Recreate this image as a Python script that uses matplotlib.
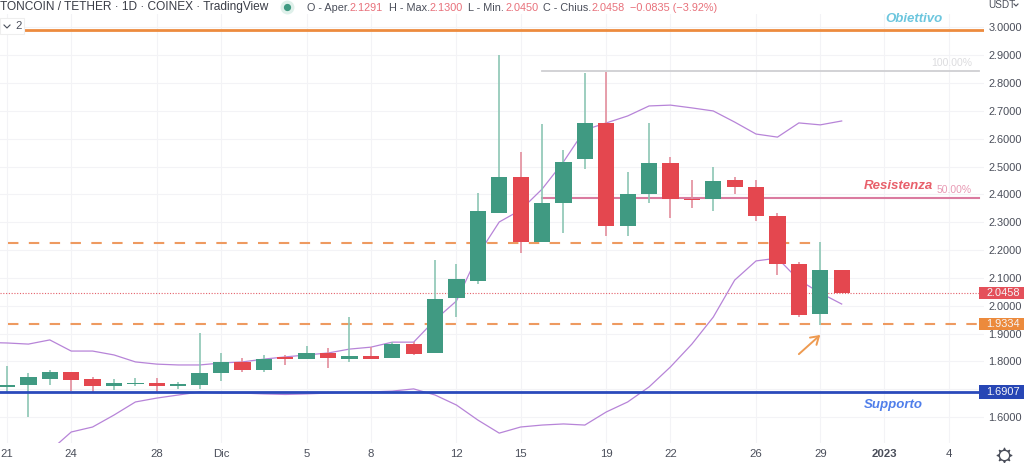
import matplotlib
matplotlib.use("Agg")
import matplotlib.pyplot as plt
from matplotlib.patches import Rectangle
from matplotlib.lines import Line2D

W, H = 1024, 463

# daily candles, index 0 = 21 Nov
opens = [1.709, 1.715, 1.735, 1.763, 1.738, 1.712, 1.718, 1.721, 1.712, 1.715,
         1.759, 1.799, 1.768, 1.816, 1.808, 1.831, 1.807, 1.820, 1.811, 1.863,
         1.829, 2.027, 2.089, 2.334, 2.461, 2.228, 2.368, 2.526, 2.658, 2.286,
         2.400, 2.514, 2.383, 2.382, 2.451, 2.427, 2.321, 2.150, 1.969, 2.1291]
highs = [1.783, 1.757, 1.769, 1.763, 1.744, 1.738, 1.739, 1.739, 1.727, 1.901,
         1.829, 1.811, 1.823, 1.822, 1.855, 1.847, 1.960, 1.852, 1.868, 1.868,
         2.164, 2.150, 2.404, 2.902, 2.552, 2.652, 2.560, 2.835, 2.841, 2.480,
         2.658, 2.536, 2.452, 2.497, 2.464, 2.452, 2.332, 2.156, 2.230, 2.130]
lows = [1.690, 1.601, 1.715, 1.693, 1.685, 1.697, 1.712, 1.689, 1.700, 1.700,
        1.730, 1.763, 1.762, 1.788, 1.808, 1.775, 1.797, 1.808, 1.811, 1.822,
        1.829, 1.960, 2.078, 2.332, 2.190, 2.228, 2.260, 2.490, 2.252, 2.250,
        2.368, 2.314, 2.352, 2.342, 2.402, 2.306, 2.110, 1.960, 1.931, 2.045]
closes = [1.715, 1.743, 1.761, 1.732, 1.711, 1.721, 1.722, 1.711, 1.717, 1.759,
          1.797, 1.768, 1.810, 1.807, 1.829, 1.812, 1.818, 1.808, 1.863, 1.827,
          2.024, 2.096, 2.340, 2.464, 2.230, 2.370, 2.518, 2.658, 2.286, 2.402,
          2.514, 2.382, 2.379, 2.449, 2.427, 2.321, 2.150, 1.965, 2.129, 2.0458]

# bollinger bands, first point is the day before the chart starts
band_days = list(range(-1, 40))
upper = [1.868, 1.866, 1.862, 1.877, 1.837, 1.837, 1.823, 1.798, 1.790, 1.787, 1.787,
         1.794, 1.798, 1.808, 1.816, 1.823, 1.830, 1.844, 1.851, 1.869, 1.869,
         1.949, 2.017, 2.182, 2.301, 2.344, 2.419, 2.517, 2.632, 2.657, 2.682,
         2.718, 2.721, 2.711, 2.700, 2.660, 2.617, 2.606, 2.657, 2.650, 2.664]
lower = [1.400, 1.420, 1.450, 1.478, 1.546, 1.564, 1.607, 1.654, 1.668, 1.679, 1.690,
         1.686, 1.686, 1.683, 1.681, 1.683, 1.686, 1.688, 1.690, 1.693, 1.701,
         1.679, 1.643, 1.589, 1.542, 1.564, 1.571, 1.575, 1.571, 1.618, 1.654,
         1.708, 1.780, 1.862, 1.959, 2.092, 2.161, 2.171, 2.092, 2.046, 2.006]

target = 2.990
fib_100 = 2.842
fib_50 = 2.387
resist_dash = 2.227
support_dash = 1.9334
support = 1.6907
last_price = 2.0458

x_ticks = [0, 3, 7, 10, 14, 17, 21, 24, 28, 31, 35, 38, 41, 44]
x_labels = ["21", "24", "28", "Dic", "5", "8", "12", "15", "19", "22", "26", "29", "2023", "4"]
y_ticks = [1.6, 1.7, 1.8, 1.9, 2.0, 2.1, 2.2, 2.3, 2.4, 2.5, 2.6, 2.7, 2.8, 2.9, 3.0]
y_labels = ["1.6000", "", "1.8000", "1.9000", "2.0000", "2.1000", "2.2000", "2.3000",
            "2.4000", "2.5000", "2.6000", "2.7000", "2.8000", "2.9000", "3.0000"]

GREEN, RED = "#409a82", "#e4474f"
GREEN_WICK, RED_WICK = "#8cc6b4", "#e38e9c"
TEXT = "#4a4e5a"

plt.rcParams["font.family"] = ["Liberation Sans", "DejaVu Sans"]

fig = plt.figure(figsize=(W / 100, H / 100), dpi=100)
ax = fig.add_axes([0, (H - 443) / H, 984 / W, (443 - 14) / H])
ax.set_xlim(-0.327, 45.65)
ax.set_ylim(1.5065, 3.0485)
for s in ax.spines.values():
    s.set_visible(False)

ax.set_xticks(x_ticks)
ax.set_xticklabels(x_labels, fontsize=8.2, color=TEXT)
ax.get_xticklabels()[12].set_fontweight("bold")
ax.yaxis.tick_right()
ax.set_yticks(y_ticks)
ax.set_yticklabels(y_labels, fontsize=7.9, color=TEXT, ha="left")
ax.tick_params(length=0)
ax.tick_params(axis="y", pad=3)
ax.tick_params(axis="x", pad=4)
ax.grid(True, color="#f3f3f6", lw=0.8)
ax.set_axisbelow(True)

# levels
ax.plot([0, 45.65], [target, target], color="#ed8b3e", lw=2.0, zorder=2)
ax.plot([25, 45.4], [fib_100, fib_100], color="#cfcfd2", lw=1.3, zorder=2)
ax.plot([25, 45.4], [fib_50, fib_50], color="#da7ba0", lw=1.5, zorder=2)
ax.plot([0.05, 38], [resist_dash, resist_dash], color="#ee9a60", lw=1.5, dashes=(5, 5), zorder=2)
ax.plot([0.05, 45.4], [support_dash, support_dash], color="#ee9a60", lw=1.5, dashes=(5, 5), zorder=2)
ax.axhline(last_price, color="#e4606a", lw=0.8, ls=(0, (1, 1.5)), zorder=2)

ax.plot(band_days, upper, color="#b784d8", lw=0.9, zorder=3)
ax.plot(band_days, lower, color="#b784d8", lw=0.9, zorder=3)

# candles
for i in range(len(opens)):
    up = closes[i] >= opens[i]
    ax.plot([i, i], [lows[i], highs[i]], color=GREEN_WICK if up else RED_WICK, lw=1.2,
            solid_capstyle="butt", zorder=4)
    ax.bar(i, abs(closes[i] - opens[i]), bottom=min(opens[i], closes[i]), width=0.76,
           color=GREEN if up else RED, zorder=5)

ax.plot([-0.327, 45.65], [support, support], color="#2a4abb", lw=2.0, zorder=6)

ax.annotate("", xy=(38, 1.895), xytext=(37, 1.826),
            arrowprops=dict(arrowstyle="->,head_length=0.55,head_width=0.35", color="#ee9a50", lw=1.4,
                            shrinkA=0, shrinkB=0), zorder=6)


def px_text(x, y, s, **kw):
    kw.setdefault("va", "center")
    kw.setdefault("fontsize", 8.2)
    kw.setdefault("color", TEXT)
    fig.text(x / W, 1 - y / H, s, **kw)


def px_box(x0, y0, x1, y1, **kw):
    fig.add_artist(Rectangle((x0 / W, 1 - y1 / H), (x1 - x0) / W, (y1 - y0) / H,
                             transform=fig.transFigure, **kw))


# header
px_text(0, 7, "TONCOIN / TETHER · 1D · COINEX · TradingView", fontsize=8.55, color="#3a3d47")
fig.add_artist(Line2D([287 / W], [1 - 6.5 / H], marker="o", ms=9, color="#dff0ea", transform=fig.transFigure))
fig.add_artist(Line2D([287 / W], [1 - 6.5 / H], marker="o", ms=4.2, color=GREEN, transform=fig.transFigure))
header_parts = [(307, "O - Aper.", TEXT), (350, "2.1291", "#e8707a"), (389, "H - Max.", TEXT), (430, "2.1300", "#e8707a"),
                (468, "L - Min.", TEXT), (505, "2.0450", "#e8707a"), (543, "C - Chius.", TEXT), (591, "2.0458", "#e8707a"),
                (630, "−0.0835 (−3.92%)", "#e8707a")]
for x, s, c in header_parts:
    px_text(x, 8, s, color=c, fontsize=7.8)

# collapsed indicator box
px_box(0, 18, 24, 34, facecolor="white", edgecolor="#eeeeee", lw=0.8, zorder=2)
fig.add_artist(Line2D([4 / W, 7 / W, 10 / W], [1 - 25 / H, 1 - 28 / H, 1 - 25 / H], color=TEXT, lw=0.8,
                      transform=fig.transFigure, zorder=3))
px_text(15, 26, "2", fontsize=8.2)

# right scale
px_text(988, 5, "USDT", fontsize=7.2)
fig.add_artist(Line2D([1014 / W, 1016 / W, 1018 / W], [1 - 4 / H, 1 - 6 / H, 1 - 4 / H], color=TEXT, lw=0.8,
                      transform=fig.transFigure, zorder=3))

for y0, y1, c, s in [(287, 299, "#e4505a", "2.0458"), (318, 330, "#ec8a3c", "1.9334"), (385, 399, "#2746b5", "1.6907")]:
    px_box(979, y0, 1024, y1, facecolor=c, edgecolor="none", zorder=2)
    px_text(1003, (y0 + y1) / 2, s, color="#f4f4f6", ha="center", fontsize=7.9)

# notes
px_text(914, 19, "Obiettivo", color="#6cc6de", fontsize=9.5, fontweight="bold", style="italic", ha="center")
px_text(898, 186, "Resistenza", color="#e8606b", fontsize=9.5, fontweight="bold", style="italic", ha="center")
px_text(893, 405, "Supporto", color="#4f7eea", fontsize=9.5, fontweight="bold", style="italic", ha="center")
px_text(972, 190, "50.00%", color="#e89ab4", fontsize=7.5, ha="right")
px_text(972, 63, "100.00%", color="#dcdcdf", fontsize=7.5, ha="right")

# settings gear
gear = (1004 / W, 1 - 455 / H)
fig.add_artist(Line2D([gear[0]], [gear[1]], marker=(8, 1, 0), ms=11, color=TEXT, mew=0.8, transform=fig.transFigure))
fig.add_artist(Line2D([gear[0]], [gear[1]], marker="o", ms=7.5, mfc="white", mec=TEXT, mew=1.0, transform=fig.transFigure))

fig.savefig("out.png", dpi=100)
